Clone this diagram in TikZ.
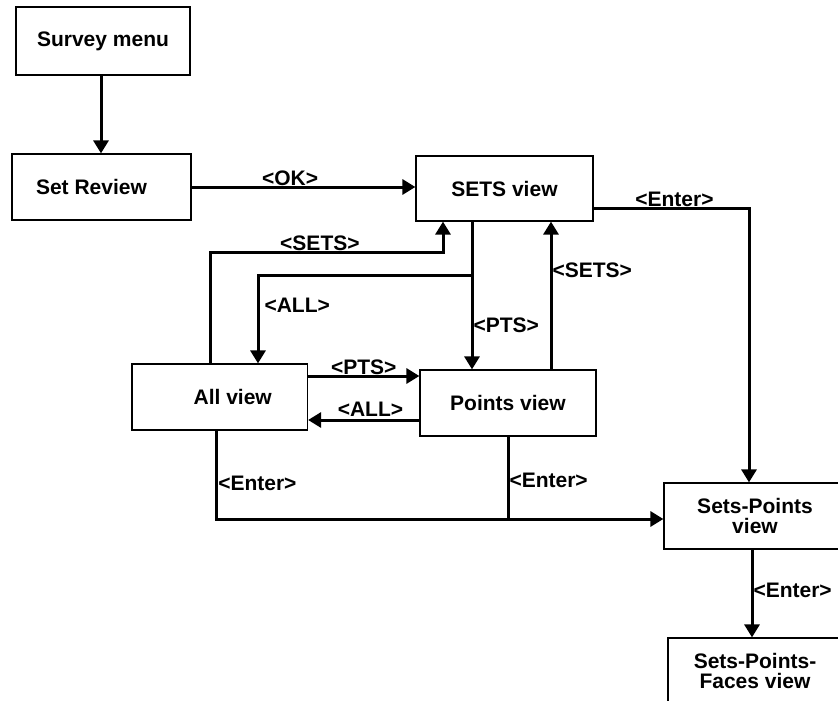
\documentclass[tikz,border=0pt]{standalone}
\usepackage{fontspec}
\setmainfont{Liberation Sans}
\usetikzlibrary{arrows.meta}

\begin{document}
\begin{tikzpicture}[x=1pt, y=-1pt,
  font=\fontsize{21}{20}\selectfont\bfseries,
  box/.style={draw, line width=1.2pt, minimum width=#1, minimum height=66pt, inner sep=0pt, align=center},
  box/.default=176pt,
  link/.style={line width=3pt},
  arr/.style={link, -{Triangle[length=13pt, width=15pt]}},
  lab/.style={inner sep=0pt}]
\useasboundingbox (0,0) rectangle (838,701);
\clip (0,0) rectangle (838,701);

\def\xl{101.5}
\def\xm{504.5}
\def\xr{755}

\node[box=174pt, line width=2pt, minimum height=68pt] (survey) at (103,41) {Survey menu};
\node[box=179pt] (setrev) at (\xl,187) {\hspace*{-20pt}Set Review};
\node[box=177pt, minimum height=65pt] (setsv) at (\xm,188.5) {SETS view};
\node[box=175.5pt] (allv) at (219.75,397) {\hspace*{26pt}All view};
\node[box] (ptsv) at (508,403) {Points view};
\node[box=182pt] (sp) at (\xr,516) {Sets-Points\\view};
\node[box=174pt] (spf) at (\xr,671) {Sets-Points-\\Faces view};

\coordinate (setsbend) at (443,252);
\coordinate (ptsdrop) at ([xshift=-32.5pt]setsv.south |- 0,275);
\coordinate (ejoin) at (ptsv.south |- 0,519);

\draw[arr] ([xshift=-2pt]survey.south) -- ([xshift=-2pt]survey.south |- setrev.north);
\draw[arr] (setrev.east) -- node[lab, above, pos=0.44] {<OK>} (setrev.east -| setsv.west);

\draw[arr] ([xshift=-9pt]allv.north) |- node[lab, above, pos=0.735] {<SETS>} (setsbend) -- (setsbend |- setsv.south);
\draw[arr] ([xshift=-32.5pt]setsv.south) -- node[lab, right, pos=0.7] {<PTS>} ([xshift=-32.5pt]setsv.south |- ptsv.north);
\draw[arr] (ptsdrop) -| node[lab, right=5pt, pos=0.67] {<ALL>} ([xshift=38.25pt]allv.north);
\draw[arr] ([xshift=43pt]ptsv.north) -- node[lab, right, pos=0.67] {<SETS>} ([xshift=43pt]ptsv.north |- setsv.south);
\draw[arr] ([yshift=-19.5pt]setsv.east) -| node[lab, above, pos=0.26] {<Enter>} ([xshift=-6pt]sp.north);

\draw[arr] ([yshift=21pt]allv.east) -- node[lab, above, pos=0.5] {<PTS>} ([yshift=21pt]allv.east -| ptsv.west);
\draw[arr] ([yshift=-17pt]ptsv.west) -- node[lab, above=2pt, pos=0.44] {<ALL>} ([yshift=-17pt]ptsv.west -| allv.east);

\draw[link] (ptsv.south) -- node[lab, right, pos=0.53] {<Enter>} (ejoin);
\draw[arr] ([xshift=-3pt]allv.south) |- node[lab, right, pos=0.3] {<Enter>} (ejoin) -- (ejoin -| sp.west);
\draw[arr] ([xshift=-3pt]sp.south) -- node[lab, right, pos=0.46] {<Enter>} ([xshift=-3pt]sp.south |- spf.north);
\end{tikzpicture}
\end{document}
